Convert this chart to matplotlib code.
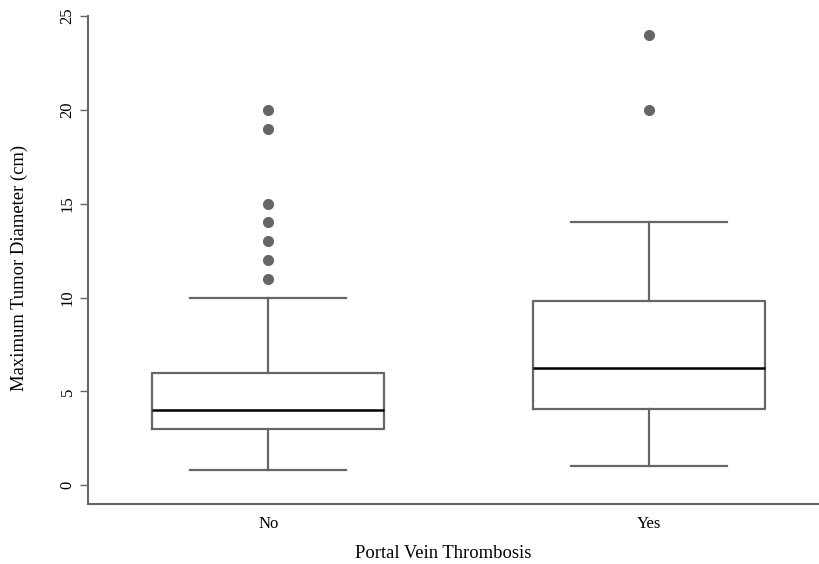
import matplotlib
matplotlib.use("Agg")
import matplotlib.pyplot as plt

plt.rcParams['font.family'] = ['Liberation Serif', 'DejaVu Serif']

groups = ['No', 'Yes']
whislo = [0.8, 1.0]
q1 = [3.0, 4.05]
med = [4.0, 6.22]
q3 = [6.0, 9.8]
whishi = [10.0, 14.0]
fliers = [[11, 12, 13, 14, 15, 19, 20], [20, 24]]

grey = '#666666'

stats = []
for i, g in enumerate(groups):
    stats.append({'label': g, 'whislo': whislo[i], 'q1': q1[i], 'med': med[i],
                  'q3': q3[i], 'whishi': whishi[i], 'fliers': fliers[i]})

fig = plt.figure(figsize=(8.2, 5.64), dpi=100)
ax = fig.add_axes([88 / 820, 60 / 564, 1 - 88 / 820, 488 / 564])

ax.bxp(stats, positions=[1, 2], widths=0.61,
       boxprops=dict(color=grey, linewidth=1.6),
       whiskerprops=dict(color=grey, linewidth=1.6, linestyle='-'),
       capprops=dict(color=grey, linewidth=1.6),
       capwidths=0.41,
       medianprops=dict(color='black', linewidth=1.8),
       flierprops=dict(marker='o', markerfacecolor=grey, markeredgecolor=grey,
                       markersize=7))

ax.set_xlim(0.526, 2.45)
ax.set_ylim(-1, 25)
ax.set_yticks([0, 5, 10, 15, 20, 25])
ax.set_yticklabels(['0', '5', '10', '15', '20', '25'], rotation=90, va='center')
ax.tick_params(axis='y', length=6, width=1, color=grey, labelsize=12, pad=3)
ax.tick_params(axis='x', length=0, labelsize=12, pad=9)

for s in ['top', 'right']:
    ax.spines[s].set_visible(False)
for s in ['left', 'bottom']:
    ax.spines[s].set_color(grey)
    ax.spines[s].set_linewidth(1.5)

ax.set_xlabel('Portal Vein Thrombosis', fontsize=13.4)
ax.xaxis.set_label_coords((443 - 88) / 732, -0.084)
ax.set_ylabel('Maximum Tumor Diameter (cm)', fontsize=13.4)
ax.yaxis.set_label_coords((28 - 88) / 732, (505 - 269) / 488)

fig.savefig('out.png', dpi=100)
